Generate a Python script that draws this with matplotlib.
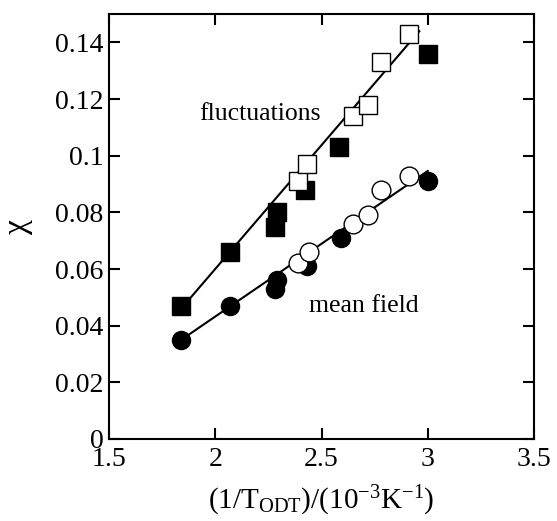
import matplotlib
matplotlib.use('Agg')
import matplotlib.pyplot as plt
import numpy as np

plt.rcParams['font.family'] = ['Liberation Serif', 'DejaVu Serif']
plt.rcParams['mathtext.fontset'] = 'custom'
plt.rcParams['mathtext.rm'] = 'Liberation Serif'
plt.rcParams['mathtext.it'] = 'Liberation Serif:italic'

# fluctuations, filled squares
fl_fill_x = [1.84, 2.07, 2.28, 2.29, 2.42, 2.58, 3.00]
fl_fill_y = [0.047, 0.066, 0.075, 0.080, 0.088, 0.103, 0.136]
# fluctuations, open squares
fl_open_x = [2.39, 2.43, 2.65, 2.72, 2.78, 2.91]
fl_open_y = [0.091, 0.097, 0.114, 0.118, 0.133, 0.143]
# mean field, filled circles
mf_fill_x = [1.84, 2.07, 2.28, 2.29, 2.43, 2.59, 3.00]
mf_fill_y = [0.035, 0.047, 0.053, 0.056, 0.061, 0.071, 0.091]
# mean field, open circles
mf_open_x = [2.39, 2.44, 2.65, 2.72, 2.78, 2.91]
mf_open_y = [0.062, 0.066, 0.076, 0.079, 0.088, 0.093]
# fitted lines (end points)
fl_line_x = [1.835, 2.96]
fl_line_y = [0.0456, 0.1439]
mf_line_x = [1.84, 3.00]
mf_line_y = [0.035, 0.0946]

fig = plt.figure(figsize=(5.57, 5.21), dpi=100)
ax = fig.add_axes([0.1957, 0.1574, 0.763, 0.8157])

ax.plot(fl_line_x, fl_line_y, color='black', lw=1.5, zorder=1)
ax.plot(mf_line_x, mf_line_y, color='black', lw=1.5, zorder=1)

ax.plot(fl_fill_x, fl_fill_y, 's', ms=12.5, mfc='black', mec='black', zorder=2)
ax.plot(fl_open_x, fl_open_y, 's', ms=13, mfc='white', mec='black', mew=1.0, zorder=3)
ax.plot(mf_fill_x, mf_fill_y, 'o', ms=13, mfc='black', mec='black', zorder=2)
ax.plot(mf_open_x, mf_open_y, 'o', ms=13.5, mfc='white', mec='black', mew=1.0, zorder=3)

ax.text(2.21, 0.1147, 'fluctuations', fontsize=18.5, ha='center', va='center')
ax.text(2.70, 0.047, 'mean field', fontsize=18.5, ha='center', va='center')

ax.set_xlim(1.5, 3.5)
ax.set_ylim(0, 0.15)
ax.set_xticks([1.5, 2, 2.5, 3, 3.5])
ax.set_xticklabels(['1.5', '2', '2.5', '3', '3.5'])
ax.set_yticks([0, 0.02, 0.04, 0.06, 0.08, 0.1, 0.12, 0.14])
ax.set_yticklabels(['0', '0.02', '0.04', '0.06', '0.08', '0.1', '0.12', '0.14'])
ax.tick_params(direction='in', length=8, width=1.5, top=True, right=True,
               labelsize=20, pad=4)
ax.tick_params(axis='x', pad=6)
for s in ax.spines.values():
    s.set_linewidth(1.5)

ax.set_ylabel('χ', fontsize=24, labelpad=16)
ax.set_xlabel(r'$(1/\mathrm{T}_{\mathrm{ODT}})/(10^{-3}\mathrm{K}^{-1})$', fontsize=21, labelpad=8)

fig.savefig('out.png', dpi=100)
